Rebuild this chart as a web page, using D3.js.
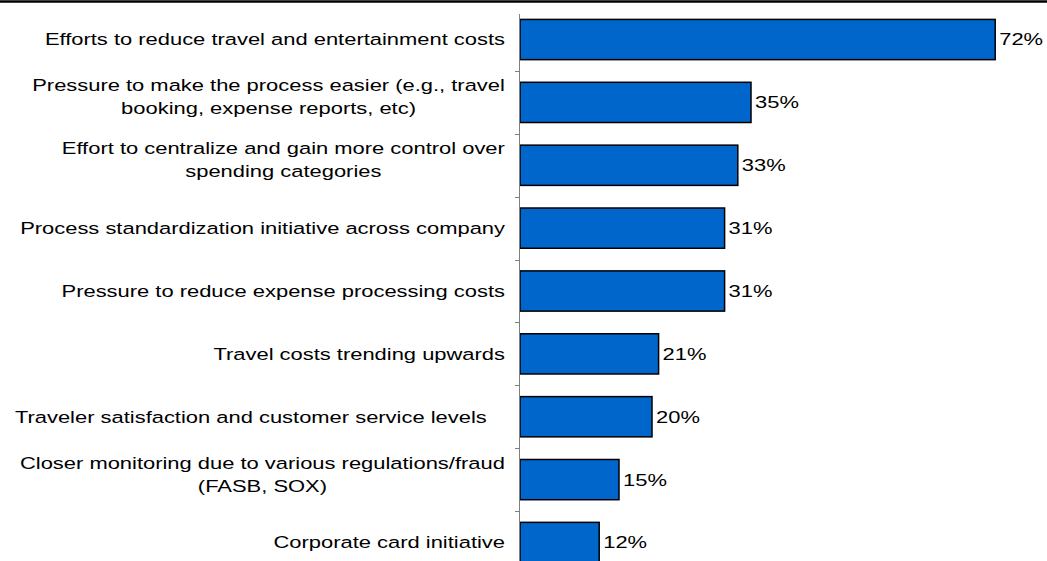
<!DOCTYPE html>
<html lang="en">
<head>
  <meta charset="UTF-8" />
  <title>Drivers</title>
  <script src="https://d3js.org/d3.v7.min.js"></script>
  <style>
    body { margin: 0; background: #fff; font-family: "Liberation Sans", Arial, sans-serif; }
    .label { font-size: 17px; fill: #000; white-space: pre; }
    .value { font-size: 17px; fill: #000; }
    .bar { fill: #0066cc; stroke: #000; stroke-width: 1.5; }
  </style>
</head>
<body>
  <svg id="chart" width="1047" height="561"></svg>
  <script>
    // categories (lines of each label), top to bottom
    const categories = [
      ["Efforts to reduce travel and entertainment costs"],
      ["Pressure to make the process easier (e.g., travel", "booking, expense reports, etc)"],
      ["Effort to centralize and gain more control over", "spending categories"],
      ["Process standardization initiative across company"],
      ["Pressure to reduce expense processing costs"],
      ["Travel costs trending upwards"],
      ["Traveler satisfaction and customer service levels   "],
      ["Closer monitoring due to various regulations/fraud", "(FASB, SOX)"],
      ["Corporate card initiative"]
    ];
    const values = [72, 35, 33, 31, 31, 21, 20, 15, 12];

    const width = 1047, height = 561;
    const stretch = 1.29; // the source text is drawn wide
    const svg = d3.select("#chart");
    const ids = categories.map((d, i) => i);

    const x = d3.scaleLinear().domain([0, 80]).range([520, 1048]);
    const y = d3.scaleBand().domain(ids).range([8.1, 573.9]).padding(0);
    const barPad = 0.18;

    // top rule
    svg.append("line")
      .attr("x1", 0).attr("x2", width)
      .attr("y1", 1.5).attr("y2", 1.5)
      .attr("stroke", "#000").attr("stroke-width", 2.5);

    // bars
    svg.selectAll("rect.bar")
      .data(values)
      .enter()
      .append("rect")
      .attr("class", "bar")
      .attr("x", x(0))
      .attr("y", (d, i) => y(i) + y.bandwidth() * barPad)
      .attr("width", d => x(d) - x(0))
      .attr("height", y.bandwidth() * (1 - 2 * barPad));

    // axis line + ticks at band boundaries
    const ax = svg.append("g").attr("stroke", "#808080").attr("stroke-width", 1);
    ax.append("line")
      .attr("x1", x(0) - 0.5).attr("x2", x(0) - 0.5)
      .attr("y1", 14).attr("y2", height);
    ax.selectAll("line.tick")
      .data(ids.slice(1))
      .enter()
      .append("line")
      .attr("class", "tick")
      .attr("x1", x(0) - 5).attr("x2", x(0))
      .attr("y1", d => Math.round(y(d)) + 0.5)
      .attr("y2", d => Math.round(y(d)) + 0.5);

    // value labels
    svg.selectAll("g.value")
      .data(values)
      .enter()
      .append("g")
      .attr("transform", (d, i) => `translate(${x(d) + 4},${y(i) + y.bandwidth() / 2}) scale(${stretch},1)`)
      .append("text")
      .attr("class", "value")
      .attr("dy", "0.35em")
      .text(d => d + "%");

    // category labels: right-aligned block, lines centered within it
    const right = 505, lineH = 23, multiShift = -5.5;
    categories.forEach((lines, i) => {
      const cy = y(i) + y.bandwidth() / 2 + (lines.length > 1 ? multiShift : 0);
      const gs = lines.map((t, j) => {
        const g = svg.append("g");
        g.append("text")
          .attr("class", "label")
          .attr("dy", "0.35em")
          .text(t);
        return { g, yy: cy + (j - (lines.length - 1) / 2) * lineH };
      });
      if (lines.length === 1) {
        gs[0].g.attr("transform", `translate(${right},${gs[0].yy}) scale(${stretch},1)`)
          .select("text").attr("text-anchor", "end");
      } else {
        const w = d3.max(gs, o => o.g.select("text").node().getComputedTextLength()) * stretch;
        gs.forEach(o => o.g.attr("transform", `translate(${right - w / 2},${o.yy}) scale(${stretch},1)`)
          .select("text").attr("text-anchor", "middle"));
      }
    });
  </script>
</body>
</html>
